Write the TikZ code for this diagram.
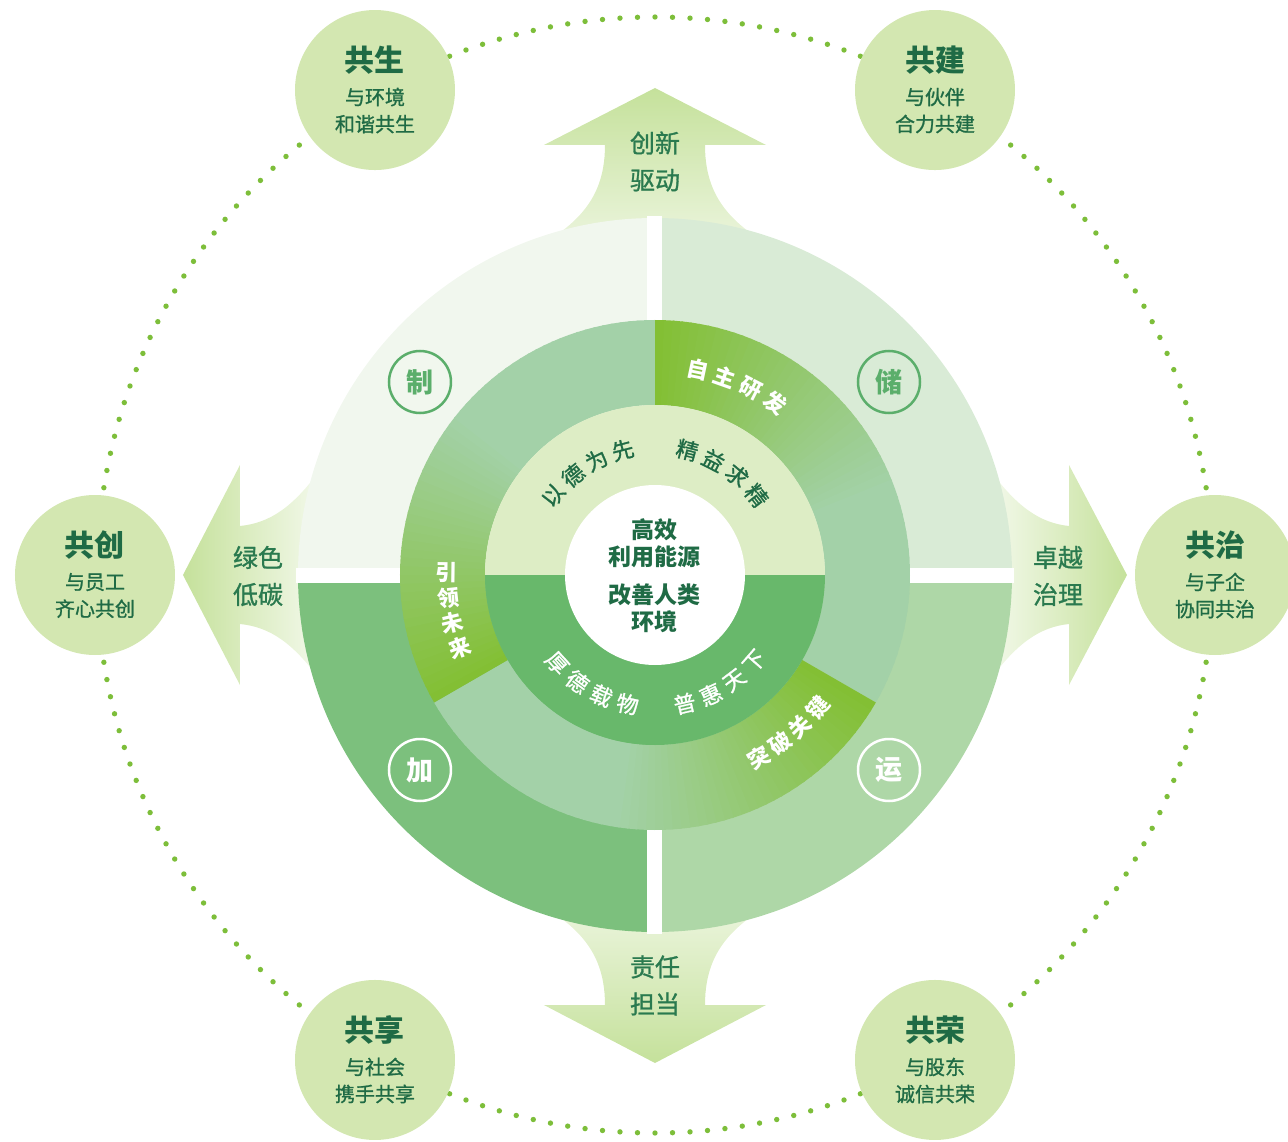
\documentclass[tikz,border=0pt]{standalone}
\usepackage{fontspec}
\setmainfont{Noto Sans CJK SC}
\newfontfamily\medfont[FakeBold=1.1]{Noto Sans CJK SC}
\definecolor{dk}{HTML}{1F6B45}
\definecolor{arrtxtc}{HTML}{2A7A4F}
\definecolor{sat}{HTML}{D3E7B1}
\definecolor{dotc}{HTML}{7DBE3A}
\definecolor{qTL}{HTML}{F1F7EE}
\definecolor{qTR}{HTML}{D9EBD6}
\definecolor{qBL}{HTML}{7CC07D}
\definecolor{qBR}{HTML}{AED7A7}
\definecolor{rbright}{HTML}{83BF34}
\definecolor{rpale}{HTML}{A3D1A8}
\definecolor{inTop}{HTML}{DDEDC5}
\definecolor{inBot}{HTML}{68B86B}
\definecolor{qlab}{HTML}{5BAE6B}
\definecolor{arrTip}{HTML}{C5E19B}
\begin{document}
\begin{tikzpicture}[x=1pt,y=1pt,
  satc/.style={circle, fill=sat, minimum size=160pt, inner sep=0},
  sattitle/.style={font=\fontsize{30}{30}\selectfont\bfseries, text=dk, inner sep=0},
  satsub/.style={font=\fontsize{20}{27}\selectfont\medfont, text=dk, align=center, inner sep=0},
  arrtxt/.style={font=\fontsize{25}{37}\selectfont\medfont, text=arrtxtc, align=center, inner sep=0},
  ctxt/.style={font=\fontsize{23}{27}\selectfont\bfseries, text=dk, align=center, inner sep=0},
  itxt/.style={font=\fontsize{22}{22}\selectfont\medfont, inner sep=0},
  otxt/.style={font=\fontsize{22}{22}\selectfont\bfseries, text=white, inner sep=0},
  qcirc/.style={circle, draw, line width=2.5pt, minimum size=62pt, inner sep=0, font=\fontsize{27}{27}\selectfont\bfseries}
]
\useasboundingbox (-655,-566) rectangle (633,575);

% dotted orbit
\foreach \i in {0,...,199} \fill[dotc] ({\i*1.8}:558) circle (2.7);

% satellites
\foreach \n/\ang/\ti/\la/\lb in {sA/120/共生/与环境/和谐共生, sB/60/共建/与伙伴/合力共建, sC/180/共创/与员工/齐心共创, sD/0/共治/与子企/协同共治, sE/240/共享/与社会/携手共享, sF/300/共荣/与股东/诚信共荣} {
  \node[satc] (\n) at (\ang:560) {};
  \node[sattitle, yshift=30pt] (\n-t) at (\n) {\ti};
  \node[satsub, yshift=-20.5pt] (\n-s) at (\n) {\la\\\lb};
}

% arrows
\shade[top color=arrTip, bottom color=white] (0,487) -- (111,430) -- (50,430) .. controls (50,365) and (90,340) .. (160,305) -- (160,250) -- (-160,250) -- (-160,305) .. controls (-90,340) and (-50,365) .. (-50,430) -- (-111,430) -- cycle;
\shade[bottom color=arrTip, top color=white] (0,-488) -- (111,-430) -- (50,-430) .. controls (50,-365) and (90,-340) .. (160,-305) -- (160,-250) -- (-160,-250) -- (-160,-305) .. controls (-90,-340) and (-50,-365) .. (-50,-430) -- (-111,-430) -- cycle;
\shade[left color=arrTip, right color=white] (-472,0) -- (-415,110) -- (-415,49) .. controls (-385,52) and (-362,68) .. (-335,105) -- (-300,105) -- (-300,-105) -- (-335,-105) .. controls (-362,-68) and (-385,-52) .. (-415,-49) -- (-415,-110) -- cycle;
\shade[right color=arrTip, left color=white] (472,0) -- (414,110) -- (414,49) .. controls (385,52) and (362,68) .. (335,105) -- (300,105) -- (300,-105) -- (335,-105) .. controls (362,-68) and (385,-52) .. (414,-49) -- (414,-110) -- cycle;

% quadrants
\fill[qTL] (0,0) -- (180:357) arc[start angle=180,end angle=90,radius=357] -- cycle;
\fill[qTR] (0,0) -- (90:357) arc[start angle=90,end angle=0,radius=357] -- cycle;
\fill[qBR] (0,0) -- (0:357) arc[start angle=0,end angle=-90,radius=357] -- cycle;
\fill[qBL] (0,0) -- (-90:357) arc[start angle=-90,end angle=-180,radius=357] -- cycle;
\fill[white] (-7.5,-359) rectangle (7.5,359);
\fill[white] (-359,-7.5) rectangle (359,7.5);

% middle ring with angular gradients
\foreach \s in {90,-30,210} {
  \foreach \i in {0,...,59} {
    \pgfmathsetmacro\p{min(100,\i*100/34)}
    \pgfmathsetmacro\a{\s-2*\i}
    \pgfmathsetmacro\b{max(\s-120,\s-2*\i-2.4)}
    \fill[rpale!\p!rbright] (\a:170) arc[start angle=\a,end angle=\b,radius=170] -- (\b:255) arc[start angle=\b,end angle=\a,radius=255] -- cycle;
  }
}

% inner disk
\fill[inTop] (0,0) -- (0:170) arc[start angle=0,end angle=180,radius=170] -- cycle;
\fill[inBot] (0,0) -- (180:170) arc[start angle=180,end angle=360,radius=170] -- cycle;
\fill[white] (0,0) circle (90);

% centre text
\node[ctxt] (c1) at (0,31.5) {高效\\利用能源};
\node[ctxt] (c2) at (0,-33) {改善人类\\环境};

% inner ring text
\foreach \c/\a [count=\k] in {以/142,德/129.5,为/117,先/104.5} {
  \pgfmathsetmacro\r{\a-90}
  \node[itxt, text=dk, rotate=\r] (ia\k) at (\a:129) {\c};
}
\foreach \c/\a [count=\k] in {精/75.5,益/63,求/50.5,精/38} {
  \pgfmathsetmacro\r{\a-90}
  \node[itxt, text=dk, rotate=\r] (ib\k) at (\a:129) {\c};
}
\foreach \c/\a [count=\k] in {厚/222,德/234,载/246,物/258} {
  \pgfmathsetmacro\r{\a-270}
  \node[itxt, text=white, rotate=\r] (ic\k) at (\a:132) {\c};
}
\foreach \c/\a [count=\k] in {普/283,惠/295,天/307,下/319} {
  \pgfmathsetmacro\r{\a-270}
  \node[itxt, text=white, rotate=\r] (id\k) at (\a:132) {\c};
}

% outer ring text
\foreach \c/\a [count=\k] in {自/78.2,主/70.5,研/62.8,发/55.1} {
  \pgfmathsetmacro\r{\a-90}
  \node[otxt, rotate=\r] (oa\k) at (\a:210) {\c};
}
\foreach \c/\a [count=\k] in {突/-60.5,破/-53.4,关/-46.3,键/-39.2} {
  \pgfmathsetmacro\r{\a+90}
  \node[otxt, rotate=\r] (ob\k) at (\a:210) {\c};
}
\foreach \c/\a [count=\k] in {引/179.2,领/186.3,未/193.4,来/200.5} {
  \pgfmathsetmacro\r{\a-180}
  \node[otxt, rotate=\r] (oc\k) at (\a:208) {\c};
}

% quadrant labels
\node[qcirc, draw=qlab, text=qlab] (qz) at (-235,193) {制};
\node[qcirc, draw=qlab, text=qlab] (qc) at (234,193) {储};
\node[qcirc, draw=white, text=white] (qj) at (-235,-195) {加};
\node[qcirc, draw=white, text=white] (qy) at (234,-195) {运};

% arrow labels
\node[arrtxt] (aU) at (0,413.5) {创新\\驱动};
\node[arrtxt] (aD) at (0,-410.5) {责任\\担当};
\node[arrtxt] (aL) at (-397,-1) {绿色\\低碳};
\node[arrtxt] (aR) at (403,-1) {卓越\\治理};
\end{tikzpicture}
\end{document}
